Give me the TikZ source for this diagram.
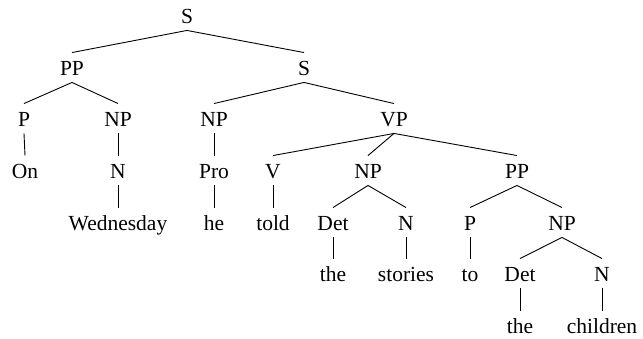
\documentclass[tikz,border=0pt]{standalone}
\usepackage{fontspec}
\setmainfont{Liberation Serif}
\usetikzlibrary{positioning}
\tikzset{
	>=latex,
}
\begin{document}
\begin{tikzpicture}[
		x=1pt, y=-1pt,
		line width=0.9pt,
		cat/.style={
			anchor=base, inner xsep=1pt, inner ysep=1pt,
			text height=22pt, text depth=5pt,
			font=\fontsize{21.5}{25}\selectfont,
		},
	]
	\useasboundingbox (0,0) rectangle (643,339);
		\draw
			node(s)[cat] at (187,24) {S}
			node(pp)[cat] at (72,76) {PP}
			node(ss)[cat] at (304,76) {S}
			node(p)[cat] at (24,127) {P}
			node(npw)[cat] at (118,127) {NP}
			node(nph)[cat] at (214,127) {NP}
			node(vp)[cat] at (394,127) {VP}
			node(on)[cat] at (25,179) {On}
			node(nw)[cat] at (118,179) {N}
			node(pro)[cat] at (214,179) {Pro}
			node(v)[cat] at (273,179) {V}
			node(npst)[cat] at (368,179) {NP}
			node(ppto)[cat] at (517,179) {PP}
			node(wed)[cat] at (118,231) {Wednesday}
			node(he)[cat] at (214,231) {he}
			node(told)[cat] at (273,231) {told}
			node(detst)[cat] at (333,231) {Det}
			node(nst)[cat] at (406,231) {N}
			node(pto)[cat] at (470,231) {P}
			node(npch)[cat] at (562,231) {NP}
			node(thest)[cat] at (333,282) {the}
			node(stories)[cat] at (406,282) {stories}
			node(to)[cat] at (470,282) {to}
			node(detch)[cat] at (520,282) {Det}
			node(nch)[cat] at (602,282) {N}
			node(thech)[cat] at (520,334) {the}
			node(children)[cat] at (602,334) {children}
		;
		\draw (s.south) to (pp.north);
		\draw (s.south) to (ss.north);
		\draw (pp.south) to (p.north);
		\draw (pp.south) to (npw.north);
		\draw (ss.south) to (nph.north);
		\draw (ss.south) to (vp.north);
		\draw (p.south) to (on.north);
		\draw (npw.south) to (nw.north);
		\draw (nph.south) to (pro.north);
		\draw (vp.south) to (v.north);
		\draw (vp.south) to (npst.north);
		\draw (vp.south) to (ppto.north);
		\draw (nw.south) to (wed.north);
		\draw (pro.south) to (he.north);
		\draw (v.south) to (told.north);
		\draw (npst.south) to (detst.north);
		\draw (npst.south) to (nst.north);
		\draw (ppto.south) to (pto.north);
		\draw (ppto.south) to (npch.north);
		\draw (detst.south) to (thest.north);
		\draw (nst.south) to (stories.north);
		\draw (pto.south) to (to.north);
		\draw (npch.south) to (detch.north);
		\draw (npch.south) to (nch.north);
		\draw (detch.south) to (thech.north);
		\draw (nch.south) to (children.north);
	\end{tikzpicture}
\end{document}
